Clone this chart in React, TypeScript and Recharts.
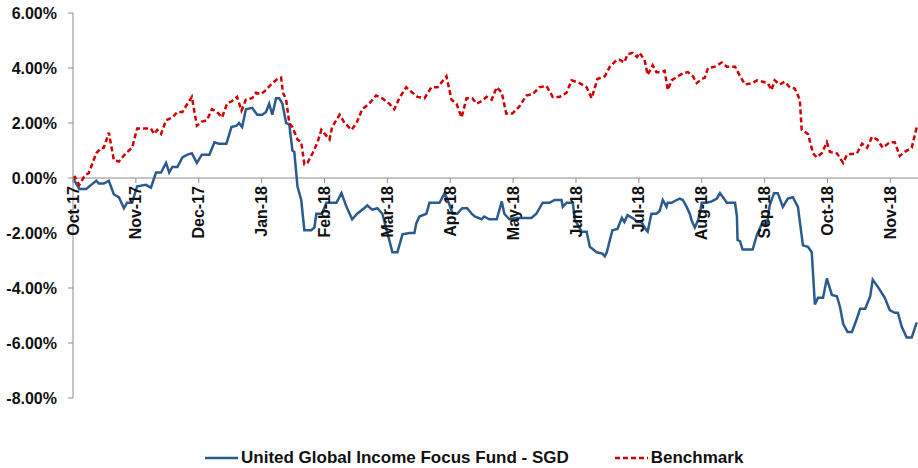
import { Legend, Line, LineChart, ReferenceLine, XAxis, YAxis } from "recharts";

// month labels on the x axis, one per tick (0 = Oct-17)
const monthLabels = [
  "Oct-17", "Nov-17", "Dec-17", "Jan-18", "Feb-18", "Mar-18", "Apr-18",
  "May-18", "Jun-18", "Jul-18", "Aug-18", "Sep-18", "Oct-18", "Nov-18",
];
const yTicks = [-8, -6, -4, -2, 0, 2, 4, 6];

// fund: months since Oct-17, cumulative return in %
const fundMonths = [
  0, 0.1, 0.21, 0.29, 0.37, 0.41, 0.49, 0.57, 0.65, 0.73, 0.81, 0.86, 0.94, 1.02, 1.16, 1.24,
  1.32, 1.4, 1.48, 1.53, 1.58, 1.66, 1.74, 1.82, 1.89, 1.97, 2.05, 2.17, 2.25, 2.32, 2.44,
  2.52, 2.6, 2.64, 2.69, 2.75, 2.85, 2.93, 3.01, 3.07, 3.12, 3.17, 3.23, 3.28, 3.33, 3.39,
  3.44, 3.49, 3.52, 3.57, 3.63, 3.68, 3.79, 3.84, 3.87, 3.96, 4.03, 4.19, 4.27, 4.35, 4.44,
  4.52, 4.63, 4.68, 4.76, 4.84, 4.92, 5.03, 5.08, 5.16, 5.24, 5.35, 5.43, 5.46, 5.51, 5.62,
  5.67, 5.83, 5.91, 5.96, 6.04, 6.11, 6.19, 6.27, 6.34, 6.39, 6.5, 6.54, 6.62, 6.74, 6.82,
  6.86, 6.94, 7.05, 7.29, 7.37, 7.47, 7.58, 7.66, 7.77, 7.79, 7.85, 7.95, 7.98, 8.09, 8.17,
  8.22, 8.33, 8.42, 8.46, 8.49, 8.54, 8.58, 8.66, 8.73, 8.77, 8.82, 8.93, 8.97, 9.04, 9.12,
  9.14, 9.2, 9.28, 9.33, 9.38, 9.44, 9.46, 9.52, 9.6, 9.65, 9.7, 9.76, 9.81, 9.84, 9.89,
  9.94, 9.97, 10.0, 10.08, 10.16, 10.24, 10.29, 10.4, 10.53, 10.56, 10.57, 10.61, 10.65, 10.81,
  10.88, 10.96, 11.04, 11.08, 11.15, 11.21, 11.29, 11.37, 11.45, 11.53, 11.61, 11.69, 11.75,
  11.8, 11.85, 11.93, 11.99, 12.07, 12.15, 12.2, 12.25, 12.32, 12.39, 12.47, 12.52, 12.6,
  12.68, 12.72, 12.8, 12.91, 12.99, 13.07, 13.12, 13.18, 13.26, 13.34, 13.42,
];
const fundValues = [
  0, -0.4, -0.4, -0.25, -0.1, -0.2, -0.2, -0.1, -0.6, -0.7, -1.1, -0.9, -0.9, -0.3, -0.25, -0.35,
  0.2, 0.2, 0.55, 0.2, 0.4, 0.4, 0.75, 0.85, 0.9, 0.55, 0.85, 0.85, 1.3, 1.25, 1.25,
  1.85, 1.9, 2.0, 1.85, 2.5, 2.55, 2.3, 2.3, 2.4, 2.7, 2.3, 2.9, 2.9, 2.7, 2.0,
  1.95, 1.0, 0.95, -0.3, -0.8, -1.9, -1.9, -1.8, -1.3, -1.3, -0.9, -0.9, -0.55, -1.05, -1.5,
  -1.3, -1.1, -1.0, -1.15, -1.1, -1.3, -2.25, -2.7, -2.7, -2.05, -2.0, -2.0, -1.65, -1.4, -1.3,
  -0.9, -0.9, -0.55, -0.8, -1.3, -1.3, -1.1, -1.1, -1.3, -1.4, -1.5, -1.4, -1.5, -1.5, -0.85,
  -1.3, -1.5, -1.45, -1.45, -1.3, -0.9, -0.9, -0.8, -0.8, -1.05, -0.9, -0.9, -1.5, -1.95, -1.95,
  -2.5, -2.7, -2.75, -2.85, -2.7, -2.25, -1.9, -1.85, -1.45, -1.6, -1.35, -1.5, -1.6, -1.6, -1.9,
  -1.95, -1.3, -1.3, -1.2, -0.8, -1.05, -0.9, -0.9, -0.8, -0.75, -0.8, -1.05, -1.3, -1.55, -1.8,
  -1.55, -1.3, -0.9, -0.9, -0.85, -0.75, -0.55, -0.9, -0.9, -1.4, -2.25, -2.3, -2.6, -2.6,
  -2.05, -1.65, -1.65, -1.0, -0.55, -0.55, -1.05, -0.75, -0.7, -1.05, -2.45, -2.5, -2.7,
  -4.6, -4.35, -4.35, -3.65, -4.25, -4.3, -4.7, -5.3, -5.6, -5.6, -5.1, -4.75, -4.75,
  -4.3, -3.7, -3.95, -4.35, -4.8, -4.9, -4.9, -5.4, -5.8, -5.8, -5.25,
];

// benchmark: months since Oct-17, cumulative return in %
const benchMonths = [
  0, 0.03, 0.1, 0.19, 0.25, 0.37, 0.45, 0.49, 0.57, 0.65, 0.73, 0.84, 0.94, 1.02, 1.16, 1.24,
  1.29, 1.34, 1.4, 1.48, 1.58, 1.66, 1.74, 1.82, 1.89, 1.97, 2.05, 2.13, 2.21, 2.29, 2.37,
  2.45, 2.53, 2.61, 2.68, 2.75, 2.85, 2.91, 2.99, 3.07, 3.15, 3.2, 3.25, 3.31, 3.34, 3.39,
  3.44, 3.49, 3.57, 3.63, 3.68, 3.73, 3.81, 3.89, 3.95, 4.08, 4.12, 4.24, 4.32, 4.43, 4.51,
  4.6, 4.71, 4.82, 4.92, 5.03, 5.11, 5.19, 5.3, 5.4, 5.48, 5.59, 5.7, 5.8, 5.94, 6.02,
  6.1, 6.18, 6.26, 6.35, 6.42, 6.5, 6.58, 6.66, 6.74, 6.82, 6.89, 6.99, 7.1, 7.21, 7.31,
  7.42, 7.53, 7.63, 7.74, 7.85, 7.93, 8.06, 8.17, 8.25, 8.34, 8.46, 8.54, 8.65, 8.69, 8.77,
  8.82, 8.9, 8.97, 9.01, 9.09, 9.14, 9.22, 9.28, 9.36, 9.41, 9.46, 9.52, 9.62, 9.7, 9.78,
  9.86, 9.92, 10.0, 10.05, 10.1, 10.21, 10.32, 10.4, 10.53, 10.61, 10.69, 10.8, 10.88, 10.97,
  11.05, 11.11, 11.16, 11.24, 11.32, 11.4, 11.48, 11.56, 11.59, 11.69, 11.77, 11.83, 11.91,
  11.99, 12.04, 12.15, 12.25, 12.31, 12.47, 12.55, 12.63, 12.71, 12.79, 12.88, 12.99, 13.07,
  13.15, 13.23, 13.34, 13.42,
];
const benchValues = [
  0, 0.04, -0.25, 0.1, 0.18, 0.9, 1.1, 1.1, 1.65, 0.65, 0.6, 0.9, 1.1, 1.8, 1.8, 1.8,
  1.6, 1.75, 1.6, 2.1, 2.2, 2.4, 2.4, 2.7, 2.95, 1.9, 2.05, 2.1, 2.5, 2.4, 2.2,
  2.7, 2.8, 2.95, 2.45, 2.85, 2.9, 3.1, 3.05, 3.2, 3.4, 3.5, 3.6, 3.65, 3.1, 2.85,
  2.0, 1.85, 1.4, 1.3, 0.5, 0.55, 0.9, 1.3, 1.75, 1.4, 1.85, 2.3, 2.0, 1.75, 2.0,
  2.5, 2.7, 3.0, 2.9, 2.7, 2.5, 2.9, 3.3, 3.1, 2.95, 2.9, 3.3, 3.3, 3.7, 2.85,
  2.7, 2.2, 2.9, 2.9, 2.7, 2.8, 2.95, 2.85, 3.3, 3.1, 2.35, 2.35, 2.6, 3.0, 3.05,
  3.3, 3.35, 2.95, 2.95, 3.1, 3.55, 3.45, 3.3, 2.9, 3.6, 3.7, 4.05, 4.3, 4.3, 4.2,
  4.5, 4.55, 4.4, 4.55, 4.3, 3.75, 4.1, 3.85, 3.85, 3.9, 3.2, 3.55, 3.7, 3.8, 3.85,
  3.7, 3.45, 3.6, 3.65, 4.0, 4.05, 4.2, 4.05, 4.05, 3.7, 3.4, 3.45, 3.55, 3.5,
  3.45, 3.2, 3.55, 3.4, 3.5, 3.3, 3.25, 2.85, 1.75, 1.6, 0.9, 0.75, 0.9,
  1.3, 0.95, 0.9, 0.55, 0.85, 0.9, 1.25, 1.1, 1.5, 1.4, 1.1, 1.3, 1.3,
  0.8, 0.95, 1.1, 1.85,
];

const fundData = fundMonths.map((m, i) => ({ m, fund: fundValues[i] }));
const benchData = benchMonths.map((m, i) => ({ m, bench: benchValues[i] }));

const FUND_COLOR = "#2B5A8F";
const BENCH_COLOR = "#D00000";
const AXIS_COLOR = "#8C8C8C";
const FONT = "'Liberation Sans', Arial, sans-serif";

const W = 918;
const H = 468;
const TOP = 13;
const BOTTOM = 50;
const XAXIS_H = 20;
const Y_MIN = -8;
const Y_MAX = 6;
const PLOT_H = H - TOP - BOTTOM - XAXIS_H;
const ZERO_Y = TOP + ((Y_MAX - 0) / (Y_MAX - Y_MIN)) * PLOT_H;

// month ticks sit on the zero line, not at the bottom of the plot
const MonthTick = (props: any) => {
  const { x, payload } = props;
  const ty = ZERO_Y + 8;
  return (
    <g>
      <line x1={x} x2={x} y1={ZERO_Y} y2={ZERO_Y + 5} stroke={AXIS_COLOR} />
      <text
        x={x}
        y={ty}
        dy="0.35em"
        transform={`rotate(-90 ${x} ${ty})`}
        textAnchor="end"
        fill="#111"
        fontFamily={FONT}
        fontWeight="bold"
        fontSize={16}
      >
        {monthLabels[payload.value]}
      </text>
    </g>
  );
};

const renderLegend = () => (
  <div
    style={{
      display: "flex",
      alignItems: "center",
      paddingLeft: 205,
      fontFamily: FONT,
      fontWeight: "bold",
      fontSize: 17,
      color: "#111",
      lineHeight: "20px",
    }}
  >
    <svg width={34} height={10}>
      <line x1={0} x2={33} y1={5} y2={5} stroke={FUND_COLOR} strokeWidth={2.5} />
    </svg>
    <span style={{ marginLeft: 2 }}>United Global Income Focus Fund - SGD</span>
    <svg width={34} height={10} style={{ marginLeft: 46 }}>
      <line
        x1={0}
        x2={33}
        y1={5}
        y2={5}
        stroke={BENCH_COLOR}
        strokeWidth={2.5}
        strokeDasharray="5 3"
      />
    </svg>
    <span style={{ marginLeft: 2 }}>Benchmark</span>
  </div>
);

export default function App() {
  return (
    <div style={{ width: W, height: H }}>
      <style>{"body{margin:0}"}</style>
      <LineChart width={W} height={H} margin={{ top: TOP, right: 0, bottom: BOTTOM, left: 0 }}>
        <XAxis
          type="number"
          dataKey="m"
          domain={[0, 13.44]}
          ticks={monthLabels.map((_, i) => i)}
          interval={0}
          height={XAXIS_H}
          axisLine={false}
          tickLine={false}
          tick={<MonthTick />}
          allowDataOverflow
        />
        <YAxis
          width={73}
          domain={[Y_MIN, Y_MAX]}
          ticks={yTicks}
          interval={0}
          tickFormatter={(v: number) => `${v.toFixed(2)}%`}
          axisLine={{ stroke: AXIS_COLOR }}
          tickLine={{ stroke: AXIS_COLOR }}
          tickSize={5}
          tickMargin={11}
          tick={{ fill: "#111", fontFamily: FONT, fontWeight: "bold", fontSize: 16 }}
        />
        <ReferenceLine y={0} stroke={AXIS_COLOR} />
        <Line
          data={fundData}
          dataKey="fund"
          name="United Global Income Focus Fund - SGD"
          type="linear"
          stroke={FUND_COLOR}
          strokeWidth={2.5}
          dot={false}
          isAnimationActive={false}
        />
        <Line
          data={benchData}
          dataKey="bench"
          name="Benchmark"
          type="linear"
          stroke={BENCH_COLOR}
          strokeWidth={2.5}
          strokeDasharray="5 3"
          dot={false}
          isAnimationActive={false}
        />
        <Legend
          layout="horizontal"
          verticalAlign="middle"
          align="center"
          wrapperStyle={{ top: 448, left: 0, width: W, height: 20 }}
          content={renderLegend}
        />
      </LineChart>
    </div>
  );
}
